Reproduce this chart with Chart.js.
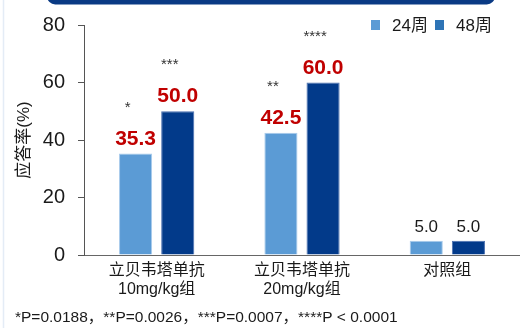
<!DOCTYPE html>
<html>
<head>
<meta charset="utf-8">
<script src="https://cdn.jsdelivr.net/npm/chart.js@4"></script>
<style>
  html, body { margin: 0; padding: 0; background: #fff; }
  #wrap { width: 520px; height: 328px; position: relative; }
</style>
</head>
<body>
<div id="wrap"><canvas id="chart" width="520" height="328"></canvas></div>
<script>
const FONT = "'Liberation Sans', Arial, 'Noto Sans CJK SC', sans-serif";

// data
const categories = [["立贝韦塔单抗", "10mg/kg组"], ["立贝韦塔单抗", "20mg/kg组"], "对照组"];
const seriesNames = ["24周", "48周"];
const week24 = [35.3, 42.5, 5.0];
const week48 = [50.0, 60.0, 5.0];
const sig24 = ["*", "**", ""];
const sig48 = ["***", "****", ""];
const yTicks = [0, 20, 40, 60, 80];
const footnote = "*P=0.0188，**P=0.0026，***P=0.0007，****P < 0.0001";

const barColors = ["#5B9BD5", "#023A8A"];
const barEdges = ["#A9CBEC", "#4A6FB0"];
const legendColors = ["#5B9BD5", "#2E74B6"];

// banner, left rule, legend, value labels, stars, footnote
const decor = {
  id: "decor",
  beforeDraw(chart) {
    const ctx = chart.ctx;
    ctx.save();
    ctx.fillStyle = "#0A3A84";
    ctx.beginPath();
    ctx.roundRect(47, -12, 448, 16.5, 9);
    ctx.fill();
    ctx.strokeStyle = "#E4ECF6";
    ctx.lineWidth = 1.5;
    ctx.beginPath();
    ctx.moveTo(3.5, 0);
    ctx.lineTo(3.5, 328);
    ctx.stroke();
    ctx.restore();
  },
  afterDatasetsDraw(chart) {
    const ctx = chart.ctx;
    const sigs = [sig24, sig48];
    ctx.save();
    ctx.textAlign = "center";
    chart.data.datasets.forEach((ds, di) => {
      chart.getDatasetMeta(di).data.forEach((el, i) => {
        const v = ds.data[i];
        if (i < 2) {
          ctx.font = "bold 21px " + FONT;
          ctx.fillStyle = "#C00000";
        } else {
          ctx.font = "17px " + FONT;
          ctx.fillStyle = "#1a1a1a";
        }
        ctx.textBaseline = "alphabetic";
        ctx.fillText(v.toFixed(1), el.x, el.y - 9);
        const s = sigs[di][i];
        if (s) {
          ctx.font = "15px " + FONT;
          ctx.fillStyle = "#333";
          ctx.fillText(s, el.x - 8, el.y - 42);
        }
      });
    });

    // legend
    ctx.textAlign = "left";
    ctx.textBaseline = "middle";
    ctx.font = "17px " + FONT;
    let x = 371;
    seriesNames.forEach((name, i) => {
      ctx.fillStyle = legendColors[i];
      ctx.fillRect(x, 20, 9, 10);
      ctx.fillStyle = "#1a1a1a";
      ctx.fillText(name, x + 21, 26);
      x += 64;
    });

    // footnote
    ctx.font = "15.5px " + FONT;
    ctx.fillStyle = "#1a1a1a";
    ctx.fillText(footnote, 15, 318);
    ctx.restore();
  }
};

new Chart(document.getElementById("chart"), {
  type: "bar",
  data: {
    labels: categories,
    datasets: [
      { label: seriesNames[0], data: week24, backgroundColor: barColors[0], borderColor: barEdges[0], borderWidth: 1 },
      { label: seriesNames[1], data: week48, backgroundColor: barColors[1], borderColor: barEdges[1], borderWidth: 1 }
    ]
  },
  options: {
    responsive: false,
    animation: false,
    devicePixelRatio: 1,
    layout: { padding: { top: 21, bottom: 28, left: 0, right: 0 } },
    datasets: { bar: { categoryPercentage: 0.58, barPercentage: 0.786 } },
    plugins: { legend: { display: false }, tooltip: { enabled: false } },
    scales: {
      x: {
        grid: { display: false, drawTicks: false },
        border: { color: "#666", width: 1 },
        ticks: { color: "#1a1a1a", font: { family: FONT, size: 16 }, padding: 6, maxRotation: 0 },
        afterFit: (s) => { s.height = 45; }
      },
      y: {
        min: 0, max: 80,
        afterBuildTicks: (s) => { s.ticks = yTicks.map(v => ({ value: v })); },
        grid: { drawOnChartArea: false, drawTicks: true, tickLength: 6, color: "#555" },
        border: { color: "#555", width: 1 },
        ticks: { color: "#1a1a1a", font: { family: FONT, size: 20 }, padding: 13 },
        title: { display: true, text: "应答率(%)", color: "#1a1a1a", font: { family: FONT, size: 17 }, padding: { top: 14 } },
        afterFit: (s) => { s.width = 84; }
      }
    }
  },
  plugins: [decor]
});
</script>
</body>
</html>
